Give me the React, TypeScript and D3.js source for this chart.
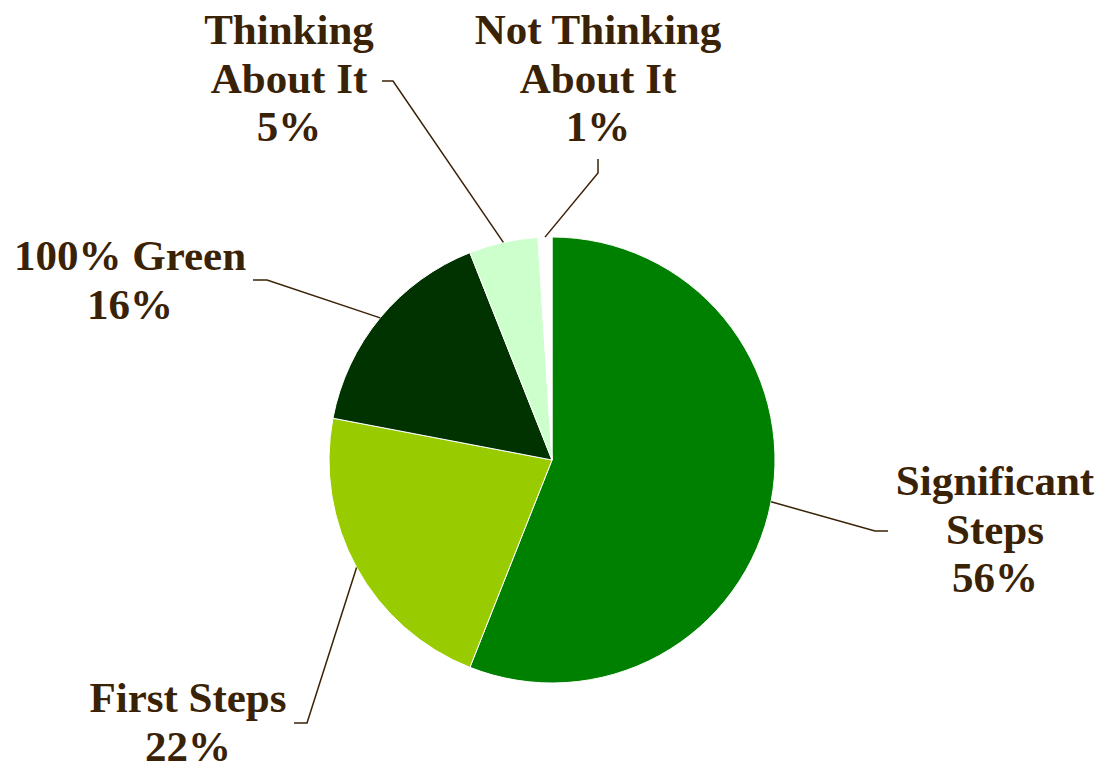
import { useEffect, useRef } from 'react';
import * as d3 from 'd3';

// data
const categories = ['Significant Steps', 'First Steps', '100% Green', 'Thinking About It', 'Not Thinking About It'];
const shares = [56, 22, 16, 5, 1];
const sliceColors = ['#008000', '#99CC00', '#003300', '#CCFFCC', '#FFFFFF'];

// label layout: text lines, anchor centre, first baseline, leader elbow and end (page coords)
const labelLines = [
    ['Significant', 'Steps', '56%'],
    ['First Steps', '22%'],
    ['100% Green', '16%'],
    ['Thinking', 'About It', '5%'],
    ['Not Thinking', 'About It', '1%'],
];
const labelCenters: [number, number][] = [
    [995, 495],
    [188, 712],
    [130, 270],
    [289, 44],
    [598, 44],
];
const leaderElbows: [number, number][] = [
    [875, 531],
    [307, 723],
    [267, 280],
    [393, 81],
    [598, 173],
];
const leaderEnds: [number, number][] = [
    [888, 531],
    [294, 723],
    [253, 280],
    [382, 81],
    [598, 159],
];

const WIDTH = 1100;
const HEIGHT = 764;
const CX = 552;
const CY = 460;
const R = 223;
const TEXT = '#3a2206';
const LINE_H = 48.5;

export default function App() {
    const ref = useRef<SVGSVGElement>(null);

    useEffect(() => {
        if (!ref.current) return;
        const svg = d3.select(ref.current);
        svg.selectAll('*').remove();

        const data = categories.map((c, i) => ({ name: c, value: shares[i], i }));
        const pie = d3.pie<{ name: string; value: number; i: number }>()
            .sort(null)
            .value((d) => d.value)
            .startAngle(0)
            .endAngle(2 * Math.PI);
        const arcs = pie(data);
        const arc = d3.arc<d3.PieArcDatum<{ name: string; value: number; i: number }>>()
            .innerRadius(0)
            .outerRadius(R);

        const g = svg.append('g').attr('transform', `translate(${CX},${CY})`);
        g.selectAll('path.slice')
            .data(arcs)
            .join('path')
            .attr('class', 'slice')
            .attr('d', arc)
            .attr('fill', (d) => sliceColors[d.data.i])
            .attr('stroke', '#ffffff')
            .attr('stroke-width', 1);

        // leader lines
        arcs.forEach((d, k) => {
            const mid = (d.startAngle + d.endAngle) / 2;
            const sx = CX + Math.sin(mid) * R;
            const sy = CY - Math.cos(mid) * R;
            const line = d3.line();
            svg.append('path')
                .attr('d', line([[sx, sy], leaderElbows[k], leaderEnds[k]]))
                .attr('fill', 'none')
                .attr('stroke', TEXT)
                .attr('stroke-width', 1.5);
        });

        // labels
        labelLines.forEach((lines, k) => {
            const t = svg.append('text')
                .attr('x', labelCenters[k][0])
                .attr('y', labelCenters[k][1])
                .attr('text-anchor', 'middle')
                .attr('font-family', '"Liberation Serif", "Times New Roman", serif')
                .attr('font-weight', 'bold')
                .attr('font-size', 43)
                .attr('fill', TEXT);
            lines.forEach((s, j) => {
                t.append('tspan')
                    .attr('x', labelCenters[k][0])
                    .attr('y', labelCenters[k][1] + j * LINE_H)
                    .text(s);
            });
        });
    }, []);

    return (
        <svg
            ref={ref}
            width={WIDTH}
            height={HEIGHT}
            style={{ position: 'absolute', left: 0, top: 0, background: '#ffffff' }}
        />
    );
}
